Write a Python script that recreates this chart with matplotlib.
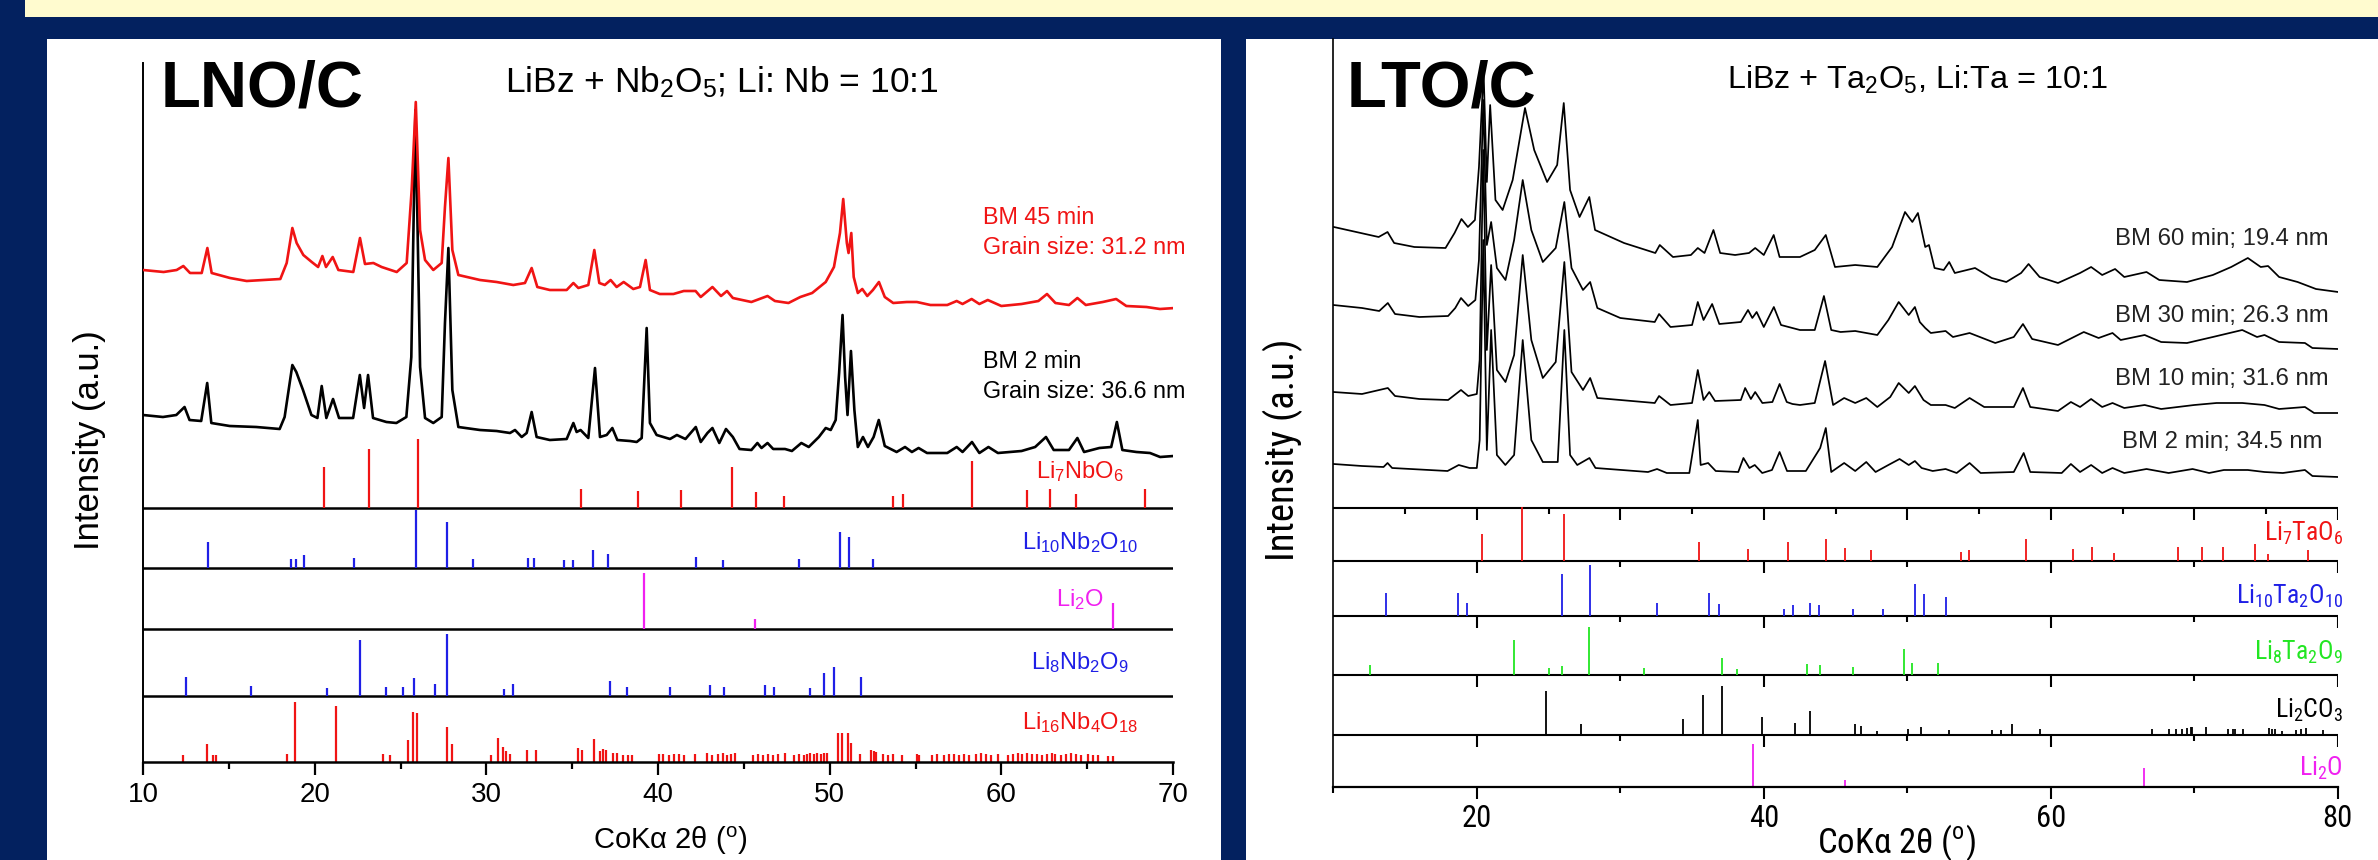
import os
import matplotlib
matplotlib.use('Agg')
import matplotlib.pyplot as plt
from matplotlib.patches import Rectangle
from matplotlib import font_manager as fm

W, H = 2378, 860


def find_narrow():
    cands = [dict(family='Liberation Sans Narrow'), dict(family='Arial Narrow'), dict(family='Roboto Condensed'),
             dict(family='DejaVu Sans', stretch='condensed'), dict(family='Noto Sans', stretch='condensed'),
             dict(family='Open Sans', stretch='condensed'), dict(family='Roboto', stretch='condensed')]
    for c in cands:
        try:
            p = fm.findfont(fm.FontProperties(**c), fallback_to_default=False)
        except Exception:
            continue
        b = os.path.basename(p).lower()
        if 'narrow' in b or 'condensed' in b or 'cond' in b:
            return c, p
    return None, None


NC, NPATH = find_narrow()
if NC is not None:
    NARROW_PATTERN = NC['family'] + (':stretch=condensed' if 'stretch' in NC else '')
    NSCALE = 1.0
else:
    NARROW_PATTERN = 'Liberation Sans'
    NSCALE = 0.88


def nfp(size):
    if NPATH is not None:
        return fm.FontProperties(fname=NPATH, size=size)
    return fm.FontProperties(family='Liberation Sans', size=size * NSCALE)


plt.rcParams['font.family'] = ['Liberation Sans', 'DejaVu Sans']
plt.rcParams['mathtext.fontset'] = 'custom'
plt.rcParams['mathtext.rm'] = 'Liberation Sans'
plt.rcParams['mathtext.sf'] = NARROW_PATTERN
plt.rcParams['mathtext.it'] = 'Liberation Sans:italic'
plt.rcParams['mathtext.bf'] = 'Liberation Sans:bold'

NAVY = '#03215f'
CREAM = '#fffbcf'
RED = '#f01414'
BLUE = '#1f1fe6'
MAG = '#f020f0'
GREEN = '#22e622'

# ---------------- LEFT PANEL DATA (LNO/C) ----------------
bm45_x = [10.0, 11.2, 11.96, 12.35, 12.74, 13.42, 13.75, 14.0, 15.07, 16.04, 18.0, 18.37, 18.7, 18.95, 19.34,
          19.83, 20.2, 20.45, 20.66, 21.05, 21.38, 22.25, 22.64, 22.93, 23.42, 23.9, 24.78, 25.36, 25.65, 25.89,
          26.14, 26.43, 26.91, 27.4, 27.59, 27.79, 28.02, 28.37, 29.63, 30.6, 31.57, 32.25, 32.64, 32.97, 33.7,
          34.68, 35.07, 35.36, 35.94, 36.29, 36.58, 36.9, 37.24, 37.59, 38.0, 38.56, 38.95, 39.28, 39.53, 40.1,
          40.9, 41.5, 42.19, 42.49, 43.17, 43.67, 44.02, 44.36, 45.44, 46.38, 46.81, 47.6, 48.29, 48.98, 49.77,
          50.25, 50.6, 50.79, 51.0, 51.1, 51.26, 51.4, 51.64, 51.9, 52.19, 52.52, 52.87, 53.21, 53.7, 54.49,
          55.08, 55.87, 56.85, 57.4, 57.74, 58.27, 58.72, 59.21, 60.0, 61.18, 62.16, 62.66, 63.15, 63.94, 64.43,
          64.92, 65.91, 66.69, 67.28, 68.46, 69.24, 70.12]
bm45_i = [40, 38, 40, 44, 37, 37, 62, 37, 32, 29, 31, 47, 82, 67, 55,
          48, 43, 54, 43, 53, 40, 38, 72, 46, 47, 43, 38, 47, 120, 208,
          80, 50, 40, 47, 103, 152, 60, 35, 30, 28, 25, 27, 42, 23, 20,
          20, 27, 22, 25, 60, 27, 25, 30, 23, 28, 21, 23, 50, 20, 16,
          16, 19, 19, 13, 23, 14, 19, 12, 8, 14, 9, 7, 13, 17, 28,
          43, 77, 111, 67, 57, 77, 33, 17, 21, 14, 20, 28, 13, 7, 8,
          8, 5, 5, 9, 6, 11, 6, 10, 4, 6, 9, 16, 7, 5, 12,
          5, 8, 11, 4, 3, 1, 2]

bm2_x = [10.0, 11.16, 11.94, 12.42, 12.71, 13.39, 13.74, 13.98, 15.05, 16.6, 17.96, 18.25, 18.7, 18.93, 19.32,
         19.81, 20.16, 20.41, 20.68, 21.07, 21.42, 22.24, 22.63, 22.88, 23.11, 23.4, 24.18, 24.76, 25.34, 25.63,
         25.87, 26.14, 26.43, 26.91, 27.4, 27.59, 27.79, 28.02, 28.37, 29.63, 30.6, 31.38, 31.67, 32.06, 32.35,
         32.64, 32.93, 33.7, 34.68, 35.07, 35.26, 35.49, 35.94, 36.33, 36.62, 37.01, 37.34, 37.63, 38.37, 38.76,
         39.05, 39.34, 39.53, 39.92, 40.7, 41.1, 41.6, 42.2, 42.49, 42.88, 43.17, 43.57, 43.96, 44.16, 44.36,
         44.75, 45.44, 45.79, 46.03, 46.38, 46.71, 47.4, 47.8, 48.35, 48.78, 49.37, 49.77, 50.06, 50.35, 50.55,
         50.75, 50.9, 51.04, 51.24, 51.44, 51.64, 51.94, 52.23, 52.56, 52.86, 53.21, 53.9, 54.39, 54.79, 55.18,
         55.67, 56.85, 57.4, 57.74, 58.29, 58.72, 59.25, 59.8, 61.18, 61.97, 62.6, 63.05, 63.94, 64.43, 64.82,
         65.71, 66.4, 66.73, 67.05, 67.87, 68.66, 69.25, 70.04]
bm2_i = [43, 41, 43, 51, 38, 37, 75, 35, 32, 31, 29, 41, 93, 86, 68,
         43, 40, 72, 40, 59, 40, 40, 83, 50, 83, 40, 36, 35, 41, 101,
         348, 91, 40, 35, 41, 135, 210, 68, 31, 28, 27, 25, 28, 21, 25,
         46, 21, 18, 19, 35, 26, 28, 20, 90, 21, 23, 30, 18, 17, 16,
         20, 130, 35, 23, 19, 23, 19, 31, 16, 25, 30, 15, 29, 25, 21,
         9, 8, 15, 10, 15, 9, 9, 7, 15, 11, 21, 30, 28, 38, 85,
         143, 81, 43, 107, 48, 11, 21, 11, 21, 38, 12, 6, 11, 6, 10,
         5, 5, 11, 6, 16, 5, 11, 5, 7, 11, 21, 8, 8, 20, 6,
         10, 11, 36, 8, 6, 5, 1, 2]

li7nbo6_pos = [20.56, 23.17, 26.04, 35.5, 38.85, 41.35, 44.32, 45.73, 47.33, 53.67, 54.3, 58.27, 61.52, 62.85, 64.33, 68.37]
li7nbo6_h = [41, 59, 69, 19, 17, 18, 41, 16, 12, 12, 14, 47, 18, 19, 14, 19]

li10nb2o10_pos = [13.81, 18.64, 18.89, 19.36, 22.27, 25.88, 27.71, 29.24, 32.44, 32.78, 34.52, 35.03, 36.23, 37.07,
                  42.19, 43.76, 48.19, 50.6, 51.1, 52.52]
li10nb2o10_h = [26, 9, 9, 13, 10, 58, 46, 9, 10, 10, 8, 8, 18, 14, 11, 8, 9, 36, 31, 9]

li2o_l_pos = [39.2, 45.63, 66.49]
li2o_l_h = [56, 10, 26]

li8nb2o9_pos = [12.49, 16.27, 20.72, 22.64, 24.17, 25.15, 25.77, 27.03, 27.73, 31.03, 31.53, 37.22, 38.21, 40.72,
                43.03, 43.82, 46.26, 46.73, 48.86, 49.69, 50.24, 51.8]
li8nb2o9_h = [19, 10, 8, 56, 9, 9, 18, 12, 62, 7, 12, 15, 9, 9, 11, 9, 11, 9, 8, 23, 29, 19]

li16nb4o18_pos = [12.35, 13.75, 14.06, 14.25, 18.37, 18.87, 21.26, 24.0, 24.39, 25.42, 25.71, 25.94, 27.73, 27.98,
                  30.27, 30.7, 30.95, 31.15, 31.38, 32.35, 32.87, 35.36, 35.55, 36.27, 36.62, 36.81, 36.97, 37.4,
                  37.59, 37.94, 38.27, 38.47, 40.03, 40.32, 40.62, 40.91, 41.21, 41.5, 42.13, 42.88, 43.17, 43.47,
                  43.77, 44.02, 44.26, 44.49, 45.54, 45.83, 46.13, 46.42, 46.72, 47.01, 47.37, 47.9, 48.2, 48.49,
                  48.69, 48.88, 49.08, 49.28, 49.47, 49.67, 49.87, 50.46, 50.71, 51.05, 51.24, 51.78, 52.43, 52.56,
                  52.72, 53.11, 53.41, 53.7, 54.2, 55.08, 55.22, 55.97, 56.26, 56.66, 56.95, 57.25, 57.54, 57.84,
                  58.13, 58.53, 58.82, 59.12, 59.41, 59.81, 60.4, 60.69, 60.99, 61.18, 61.48, 61.77, 62.07, 62.36,
                  62.66, 62.95, 63.15, 63.45, 63.74, 64.04, 64.33, 64.63, 65.02, 65.32, 65.61, 66.2, 66.5]
li16nb4o18_h = [7, 18, 7, 7, 8, 60, 56, 8, 7, 22, 50, 49, 35, 18,
                7, 24, 15, 11, 8, 12, 12, 14, 12, 23, 11, 13, 12, 9,
                9, 7, 7, 7, 8, 8, 7, 8, 8, 7, 8, 9, 7, 8,
                9, 7, 8, 9, 7, 8, 7, 8, 7, 8, 9, 7, 8, 7,
                8, 9, 8, 9, 8, 9, 9, 29, 29, 29, 19, 8, 12, 11,
                10, 8, 7, 8, 7, 8, 7, 7, 8, 7, 8, 8, 7, 8,
                7, 8, 9, 8, 7, 8, 7, 8, 9, 8, 9, 8, 8, 7,
                8, 9, 8, 7, 8, 9, 8, 7, 8, 7, 7, 6, 6]

# ---------------- RIGHT PANEL DATA (LTO/C) ----------------
bm60_x = [10.04, 11.6, 13.16, 13.78, 14.24, 15.65, 17.82, 18.45, 18.93, 19.38, 19.87, 20.15, 20.47, 20.7, 20.93,
          21.3, 21.8, 22.5, 23.36, 24.0, 24.9, 25.6, 26.06, 26.5, 27.16, 27.84, 28.24, 30.26, 32.44, 32.75,
          33.67, 34.92, 35.4, 35.87, 36.49, 36.96, 38.0, 38.97, 39.4, 40.0, 40.69, 41.1, 42.52, 43.55, 44.32,
          44.96, 46.37, 47.91, 48.94, 49.84, 50.35, 50.74, 51.25, 51.51, 51.9, 52.54, 52.92, 53.31, 54.72, 55.88,
          56.9, 57.93, 58.45, 59.22, 60.5, 62.04, 62.81, 63.58, 64.48, 65.12, 66.67, 67.56, 69.49, 71.29, 72.57,
          73.73, 74.63, 75.14, 75.91, 77.2, 78.48, 80.02]
bm60_i = [73, 68, 63, 68, 57, 53, 52, 67, 81, 73, 80, 133, 230, 118, 195,
          100, 90, 120, 192, 150, 118, 135, 197, 110, 83, 103, 70, 57, 47, 55,
          43, 45, 52, 47, 70, 47, 45, 47, 52, 45, 65, 43, 43, 50, 65,
          33, 35, 33, 53, 88, 78, 87, 53, 55, 32, 30, 38, 27, 32, 22,
          18, 27, 36, 23, 17, 27, 33, 25, 31, 23, 28, 20, 18, 25, 33,
          42, 33, 34, 23, 18, 11, 8]

bm30_x = [10.0, 12.0, 13.2, 13.8, 14.3, 16.0, 18.0, 18.5, 18.9, 19.4, 19.9, 20.15, 20.45, 20.7, 21.0,
          21.4, 22.0, 22.6, 23.2, 23.8, 24.6, 25.5, 26.1, 26.6, 27.4, 27.9, 28.4, 30.0, 32.4, 32.7,
          33.5, 35.0, 35.4, 35.8, 36.4, 36.9, 38.4, 38.9, 39.2, 39.5, 40.0, 40.7, 41.2, 42.52, 43.55,
          44.19, 44.7, 45.35, 46.37, 47.91, 48.68, 49.4, 50.1, 50.53, 50.87, 51.25, 51.64, 52.67, 53.18, 54.34,
          56.13, 57.42, 58.06, 58.7, 60.5, 62.3, 63.33, 64.3, 64.87, 66.54, 67.69, 69.49, 71.29, 73.34, 74.37,
          74.89, 75.91, 77.71, 78.23, 80.02]
bm30_i = [50, 47, 44, 52, 41, 38, 39, 47, 57, 49, 55, 95, 255, 110, 133,
          87, 75, 115, 175, 125, 93, 107, 153, 87, 65, 73, 47, 37, 33, 41,
          28, 30, 53, 35, 51, 31, 33, 45, 37, 43, 28, 48, 30, 25, 25,
          59, 25, 23, 24, 20, 35, 53, 40, 48, 33, 27, 22, 24, 18, 22,
          12, 18, 31, 16, 10, 23, 17, 22, 15, 20, 13, 12, 18, 25, 18,
          20, 13, 12, 7, 6]

bm10_x = [10.0, 12.0, 13.8, 14.3, 16.0, 18.0, 18.9, 19.4, 20.0, 20.2, 20.45, 20.7, 21.0, 21.4, 22.0,
          22.6, 23.2, 23.8, 24.6, 25.5, 26.1, 26.6, 27.4, 27.9, 28.4, 30.0, 32.4, 32.7, 33.5, 35.0,
          35.4, 35.8, 36.2, 36.6, 38.4, 38.7, 39.1, 39.4, 39.9, 40.6, 41.1, 41.6, 42.0, 42.52, 43.55,
          44.27, 44.83, 45.6, 46.37, 47.14, 47.91, 48.81, 49.4, 50.1, 50.53, 51.13, 51.64, 52.67, 53.31, 54.34,
          55.36, 57.42, 58.06, 58.57, 60.5, 61.4, 62.04, 62.81, 63.58, 64.3, 65.12, 66.54, 67.69, 70.0, 71.55,
          73.34, 74.89, 75.91, 77.71, 78.35, 80.02]
bm10_i = [28, 26, 32, 24, 21, 20, 30, 24, 26, 60, 270, 70, 155, 50, 38,
          65, 165, 80, 42, 58, 158, 48, 30, 42, 22, 20, 17, 24, 15, 17,
          50, 20, 28, 19, 20, 32, 21, 28, 17, 18, 36, 18, 16, 15, 17,
          59, 15, 22, 17, 22, 13, 23, 37, 27, 34, 20, 15, 15, 12, 22,
          13, 13, 32, 13, 9, 18, 13, 21, 13, 17, 12, 15, 11, 15, 17,
          17, 15, 11, 13, 7, 7]

bm2r_x = [10.02, 12.0, 13.5, 13.78, 14.1, 17.96, 18.74, 19.5, 20.0, 20.2, 20.45, 20.7, 21.0, 21.4, 21.99,
          22.6, 23.2, 23.8, 24.6, 25.64, 26.1, 26.5, 27.0, 27.85, 28.27, 31.93, 32.56, 33.24, 34.81, 35.4,
          35.6, 36.12, 36.65, 38.22, 38.58, 39.0, 39.37, 39.89, 40.57, 41.1, 41.62, 42.93, 43.93, 44.32, 44.7,
          45.6, 46.37, 47.14, 47.79, 48.68, 49.46, 50.1, 50.53, 51.0, 51.77, 52.67, 53.44, 54.34, 55.11, 57.42,
          58.11, 58.57, 60.76, 61.4, 62.04, 62.81, 63.58, 64.3, 65.12, 66.67, 68.21, 69.88, 71.03, 72.06, 73.73,
          74.89, 76.17, 77.71, 78.23, 80.02]
bm2r_i = [16, 14, 13, 17, 12, 9, 15, 12, 12, 40, 240, 30, 150, 25, 15,
          25, 140, 40, 18, 18, 150, 25, 15, 22, 12, 8, 11, 7, 7, 60,
          15, 17, 9, 8, 22, 12, 15, 7, 10, 28, 9, 9, 32, 52, 8,
          17, 9, 18, 8, 15, 21, 15, 19, 12, 9, 11, 7, 17, 7, 8,
          27, 8, 7, 16, 8, 15, 7, 12, 7, 11, 7, 11, 7, 10, 10,
          8, 7, 10, 4, 3]

li7tao6_pos = [20.38, 23.17, 26.06, 35.48, 38.88, 41.69, 44.33, 45.66, 47.45, 53.72, 54.32, 58.25, 61.57, 62.89,
               64.43, 68.84, 70.52, 72.02, 74.23, 75.11, 77.9]
li7tao6_h = [27, 54, 47, 19, 12, 19, 22, 13, 11, 9, 11, 22, 12, 14, 8, 14, 14, 14, 17, 7, 11]

li10ta2o10_pos = [13.7, 18.69, 19.3, 25.94, 27.87, 32.58, 36.2, 36.9, 41.41, 42.01, 43.24, 43.85, 46.24, 48.28,
                  50.54, 51.14, 52.7]
li10ta2o10_h = [23, 23, 13, 42, 51, 13, 23, 12, 7, 11, 13, 11, 7, 7, 32, 22, 19]

li8ta2o9_pos = [12.56, 22.61, 25.03, 25.91, 27.8, 31.65, 37.11, 38.11, 43.03, 43.92, 46.24, 49.79, 50.35, 52.16]
li8ta2o9_h = [10, 35, 7, 9, 48, 7, 17, 6, 11, 10, 8, 26, 12, 12]

li2co3_pos = [24.84, 27.28, 34.35, 35.76, 37.11, 39.87, 42.17, 43.24, 46.36, 46.77, 47.87, 50.03, 50.93, 52.88,
              55.88, 56.51, 57.3, 59.25, 67.07, 68.26, 68.73, 69.12, 69.47, 69.75, 69.84, 70.81, 72.37, 72.72,
              72.83, 73.41, 75.2, 75.39, 75.62, 76.13, 77.09, 77.43, 77.78, 78.99]
li2co3_h = [44, 11, 16, 40, 49, 18, 12, 24, 11, 9, 4, 6, 8, 5,
            5, 5, 11, 6, 6, 6, 6, 6, 7, 8, 8, 8, 6, 6,
            6, 6, 7, 6, 6, 4, 5, 6, 7, 5]

li2o_r_pos = [39.27, 45.66, 66.52]
li2o_r_h = [43, 7, 19]

# ---------------- FIGURE ----------------
fig = plt.figure(figsize=(W / 100, H / 100), dpi=100)
fig.patch.set_facecolor(NAVY)


def fx(x):
    return x / W


def fy(y):
    return 1 - y / H


def rect(x0, y0, x1, y1, color):
    fig.add_artist(Rectangle((fx(x0), fy(y1)), fx(x1) - fx(x0), fy(y0) - fy(y1),
                             transform=fig.transFigure, facecolor=color, edgecolor='none', zorder=-5))


rect(25, 0, W, 17, CREAM)
rect(47, 39, 1221, H, 'white')
rect(1246, 39, W, H, 'white')

# ---- left axes ----
axL = fig.add_axes([fx(143), fy(762), fx(1173) - fx(143), fy(63) - fy(762)])
axL.set_facecolor('none')
axL.set_xlim(10, 70)
axL.set_ylim(0, 699)
for s in ['top', 'right']:
    axL.spines[s].set_visible(False)
axL.spines['left'].set_linewidth(1.4)
axL.spines['bottom'].set_linewidth(1.8)
axL.set_yticks([])
axL.set_xticks([10, 20, 30, 40, 50, 60, 70])
axL.set_xticks([15, 25, 35, 45, 55, 65], minor=True)
axL.tick_params(axis='x', which='major', direction='out', length=9.5, width=1.6, labelsize=20, pad=5)
axL.tick_params(axis='x', which='minor', direction='out', length=5, width=1.6)

OFF_BM45, OFF_BM2 = 452, 304
L_SEP = [254, 194, 133, 66]
axL.plot(bm45_x, [OFF_BM45 + v for v in bm45_i], color=RED, lw=1.9, zorder=3)
axL.plot(bm2_x, [OFF_BM2 + v for v in bm2_i], color='black', lw=1.9, zorder=2)
for off in L_SEP:
    axL.axhline(off, color='black', lw=1.8, zorder=1)
left_refs = [(li7nbo6_pos, li7nbo6_h, 254, RED), (li10nb2o10_pos, li10nb2o10_h, 194, BLUE),
             (li2o_l_pos, li2o_l_h, 133, MAG), (li8nb2o9_pos, li8nb2o9_h, 66, BLUE),
             (li16nb4o18_pos, li16nb4o18_h, 0, RED)]
for pos, h, off, c in left_refs:
    axL.vlines(pos, off, [off + v for v in h], color=c, lw=1.6, zorder=2)

# ---- right axes ----
axR = fig.add_axes([fx(1333.3), fy(786.7), fx(2337.8) - fx(1333.3), fy(39) - fy(786.7)])
axR.set_facecolor('none')
axR.set_xlim(10, 80)
axR.set_ylim(0, 747.7)
for s in ['top', 'right']:
    axR.spines[s].set_visible(False)
axR.spines['left'].set_linewidth(1.2)
axR.spines['bottom'].set_linewidth(1.6)
axR.set_yticks([])
axR.set_xticks([20, 40, 60, 80])
axR.set_xticks([10, 30, 50, 70], minor=True)
axR.tick_params(axis='x', which='major', direction='out', length=8.6, width=1.5, pad=4)
axR.tick_params(axis='x', which='minor', direction='out', length=4.3, width=1.5)
for lbl in axR.get_xticklabels():
    lbl.set_fontproperties(nfp(22))

R_SEP = [278.4, 225.7, 170.7, 111.7, 51.7]
OFF_60, OFF_30, OFF_10, OFF_2 = 486.7, 431.7, 366.7, 306.7
axR.plot(bm60_x, [OFF_60 + v for v in bm60_i], color='black', lw=1.25)
axR.plot(bm30_x, [OFF_30 + v for v in bm30_i], color='black', lw=1.25)
axR.plot(bm10_x, [OFF_10 + v for v in bm10_i], color='black', lw=1.25)
axR.plot(bm2r_x, [OFF_2 + v for v in bm2r_i], color='black', lw=1.25)
for k, off in enumerate(R_SEP):
    axR.axhline(off, color='black', lw=1.5, zorder=1)
    if k == 0:
        maj, mnr = [20, 30, 40, 50, 60, 70, 80], [15, 25, 35, 45, 55, 65, 75]
    else:
        maj, mnr = [20, 40, 60, 80], [30, 50, 70]
    axR.vlines(maj, off - 12, off, color='black', lw=1.5)
    axR.vlines(mnr, off - 6, off, color='black', lw=1.5)
right_refs = [(li7tao6_pos, li7tao6_h, 225.7, RED), (li10ta2o10_pos, li10ta2o10_h, 170.7, BLUE),
              (li8ta2o9_pos, li8ta2o9_h, 111.7, GREEN), (li2co3_pos, li2co3_h, 51.7, 'black'),
              (li2o_r_pos, li2o_r_h, 0, MAG)]
for pos, h, off, c in right_refs:
    axR.vlines(pos, off, [off + v for v in h], color=c, lw=1.3, zorder=2)

# ---------------- TEXT ----------------
fig.text(fx(161), fy(107), 'LNO/C', fontsize=47, fontweight='bold', va='baseline')
fig.text(fx(505), fy(92), 'LiBz + Nb$_2$O$_5$; Li: Nb = 10:1', fontsize=25.5, va='baseline')
fig.text(fx(1347), fy(107), 'LTO/C', fontsize=47, fontweight='bold', va='baseline')
fig.text(fx(1727), fy(89), 'LiBz + Ta$_2$O$_5$, Li:Ta = 10:1', fontsize=23.3, va='baseline')

fig.text(fx(983), fy(218), 'BM 45 min', color=RED, fontsize=16.8, va='center')
fig.text(fx(983), fy(247), 'Grain size: 31.2 nm', color=RED, fontsize=16.8, va='center')
fig.text(fx(983), fy(362), 'BM 2 min', color='black', fontsize=16.8, va='center')
fig.text(fx(983), fy(392), 'Grain size: 36.6 nm', color='black', fontsize=16.8, va='center')

for txt, y, c in [('Li$_7$NbO$_6$', 472, RED), ('Li$_{10}$Nb$_2$O$_{10}$', 543, BLUE), ('Li$_2$O', 600, MAG),
                  ('Li$_8$Nb$_2$O$_9$', 663, BLUE), ('Li$_{16}$Nb$_4$O$_{18}$', 723, RED)]:
    fig.text(fx(1080), fy(y), txt, color=c, fontsize=17, ha='center', va='center')

for txt, y in [('BM 60 min; 19.4 nm', 239), ('BM 30 min; 26.3 nm', 316), ('BM 10 min; 31.6 nm', 379),
               ('BM 2 min; 34.5 nm', 442)]:
    fig.text(fx(2222), fy(y), txt, color='#222222', fontsize=17.2, ha='center', va='center')

for txt, y, c in [(r'$\mathsf{Li_7TaO_6}$', 533, RED), (r'$\mathsf{Li_{10}Ta_2O_{10}}$', 596, BLUE),
                  (r'$\mathsf{Li_8Ta_2O_9}$', 652, GREEN), (r'$\mathsf{Li_2CO_3}$', 710, 'black'),
                  (r'$\mathsf{Li_2O}$', 768, MAG)]:
    fig.text(fx(2343), fy(y), txt, color=c, fontsize=18.5 * NSCALE, ha='right', va='center')

fig.text(fx(90), fy(440), 'Intensity (a.u.)', fontsize=25, rotation=90, ha='center', va='center')
fig.text(fx(1283), fy(450), 'Intensity (a.u.)', rotation=90, ha='center', va='center', fontproperties=nfp(28))
fig.text(fx(670), fy(841), 'CoKα 2θ ($^\\mathrm{o}$)', fontsize=21, ha='center', va='center')
fig.text(fx(1896), fy(843), 'CoKα 2θ ($^\\mathsf{o}$)', ha='center', va='center', fontproperties=nfp(25))

fig.savefig('out.png', dpi=100, facecolor=fig.get_facecolor())
